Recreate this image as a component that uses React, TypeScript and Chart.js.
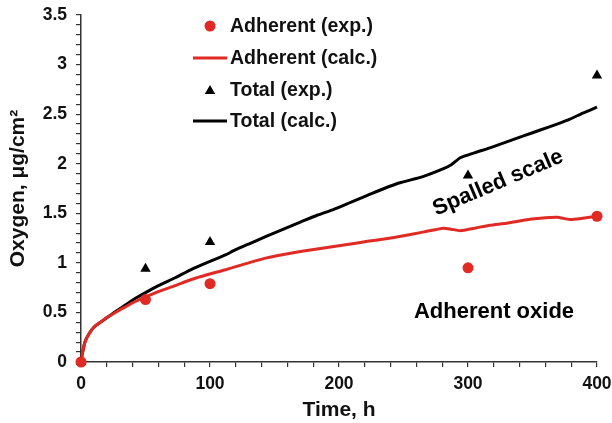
import React, { useEffect, useRef } from "react";
import { Chart, registerables } from "chart.js";

Chart.register(...registerables);

const timeExp = [0, 50, 100, 300, 400];
const adherentExp = [0, 0.63, 0.79, 0.95, 1.47];
const totalExp = [0, 0.94, 1.21, 1.88, 2.89];

const timeCalc = [0, 1, 3, 6, 10, 15, 21, 28, 35, 42, 50, 60, 73, 85, 99, 112, 118, 130, 144, 157, 170, 183, 196, 209, 222, 235, 248, 265, 281, 287, 294, 305, 317, 330, 343, 356, 369, 379, 389, 400];
const totalCalc = [0, 0.08, 0.2, 0.28, 0.35, 0.4, 0.456, 0.52, 0.58, 0.64, 0.7, 0.77, 0.85, 0.93, 1.01, 1.08, 1.12, 1.19, 1.27, 1.34, 1.41, 1.48, 1.54, 1.61, 1.68, 1.75, 1.81, 1.87, 1.95, 1.99, 2.06, 2.11, 2.16, 2.22, 2.28, 2.34, 2.4, 2.45, 2.51, 2.57];
const adherentCalc = [0, 0.08, 0.2, 0.28, 0.35, 0.4, 0.456, 0.51, 0.56, 0.61, 0.655, 0.71, 0.77, 0.83, 0.885, 0.93, 0.955, 1.0, 1.05, 1.085, 1.115, 1.14, 1.166, 1.19, 1.217, 1.24, 1.268, 1.31, 1.35, 1.34, 1.325, 1.35, 1.38, 1.4, 1.43, 1.45, 1.46, 1.437, 1.45, 1.47];

const legendLabels = ["Adherent (exp.)", "Adherent (calc.)", "Total (exp.)", "Total (calc.)"];
const annotationLabels = ["Spalled scale", "Adherent oxide"];
const xTitle = "Time, h";
const yTitle = "Oxygen, μg/cm²";

const RED = "rgb(226,42,36)";
const BLACK = "#000000";
const FONT = "'Liberation Sans', Arial, sans-serif";

const toXY = (xs: number[], ys: number[]) => xs.map((x, i) => ({ x, y: ys[i] }));

const overlayPlugin = {
  id: "overlay",
  afterDraw(chart: any) {
    const ctx = chart.ctx as CanvasRenderingContext2D;
    ctx.save();
    const rows = [26, 58, 90, 121];
    const mx = 210;
    ctx.fillStyle = RED;
    ctx.beginPath();
    ctx.arc(mx, rows[0], 5.5, 0, Math.PI * 2);
    ctx.fill();
    ctx.strokeStyle = RED;
    ctx.lineWidth = 3;
    ctx.beginPath();
    ctx.moveTo(193, rows[1]);
    ctx.lineTo(227, rows[1]);
    ctx.stroke();
    ctx.fillStyle = BLACK;
    const r = 6;
    ctx.beginPath();
    for (let k = 0; k < 3; k++) {
      const a = (k * 2 * Math.PI) / 3;
      const px = mx + Math.sin(a) * r;
      const py = rows[2] + 1 - Math.cos(a) * r;
      if (k === 0) ctx.moveTo(px, py);
      else ctx.lineTo(px, py);
    }
    ctx.closePath();
    ctx.fill();
    ctx.strokeStyle = BLACK;
    ctx.beginPath();
    ctx.moveTo(193, rows[3]);
    ctx.lineTo(227, rows[3]);
    ctx.stroke();

    ctx.fillStyle = "#111";
    ctx.font = `bold 19.5px ${FONT}`;
    ctx.textAlign = "left";
    ctx.textBaseline = "middle";
    legendLabels.forEach((t, i) => ctx.fillText(t, 230, rows[i] + 1));

    ctx.font = `bold 22px ${FONT}`;
    ctx.textAlign = "center";
    ctx.fillStyle = "#000";
    ctx.fillText(annotationLabels[1], 494, 312);
    ctx.translate(498, 183);
    ctx.rotate((-23 * Math.PI) / 180);
    ctx.fillText(annotationLabels[0], 0, 0);
    ctx.restore();
  },
};

export default function App() {
  const ref = useRef<HTMLCanvasElement | null>(null);
  useEffect(() => {
    document.body.style.margin = "0";
    if (!ref.current) return;
    Chart.defaults.font.family = FONT;
    const chart = new Chart(ref.current, {
      type: "scatter",
      data: {
        datasets: [
          {
            label: "Adherent (exp.)",
            data: toXY(timeExp, adherentExp),
            backgroundColor: RED,
            borderColor: RED,
            pointRadius: 5.5,
            pointBorderWidth: 0,
            pointStyle: "circle",
            showLine: false,
            order: 0,
            clip: false,
          },
          {
            label: "Total (exp.)",
            data: toXY(timeExp, totalExp),
            backgroundColor: BLACK,
            borderColor: BLACK,
            pointRadius: 6,
            pointBorderWidth: 0,
            pointStyle: "triangle",
            showLine: false,
            order: 0,
            clip: false,
          },
          {
            label: "Adherent (calc.)",
            data: toXY(timeCalc, adherentCalc),
            borderColor: RED,
            borderWidth: 3,
            pointRadius: 0,
            showLine: true,
            tension: 0.2,
            order: 1,
            clip: false,
          },
          {
            label: "Total (calc.)",
            data: toXY(timeCalc, totalCalc),
            borderColor: BLACK,
            borderWidth: 3,
            pointRadius: 0,
            showLine: true,
            tension: 0.2,
            order: 1,
            clip: false,
          },
        ],
      },
      options: {
        responsive: false,
        animation: false,
        layout: { padding: { left: 0, right: 15, top: 15, bottom: 0 } },
        plugins: { legend: { display: false }, tooltip: { enabled: false } },
        scales: {
          x: {
            type: "linear",
            min: 0,
            max: 400,
            afterFit: (s: any) => {
              s.height = 61;
              s.paddingLeft = 0;
              s.paddingRight = 0;
            },
            border: { display: true, color: "#333", width: 1.5 },
            grid: { display: true, drawOnChartArea: false, drawTicks: true, tickLength: 5, color: "#333", lineWidth: 1.2 },
            ticks: {
              stepSize: 20,
              autoSkip: false,
              maxRotation: 0,
              padding: 7,
              color: "#111",
              font: { size: 17.5, weight: "bold" },
              callback: (v: any) => (Math.round(v) % 100 === 0 ? String(Math.round(v)) : ""),
            },
            title: { display: true, text: xTitle, color: "#111", font: { size: 21, weight: "bold" }, padding: { top: 2, bottom: 0 } },
          },
          y: {
            type: "linear",
            min: 0,
            max: 3.5,
            afterFit: (s: any) => {
              s.width = 81;
              s.paddingTop = 0;
              s.paddingBottom = 0;
            },
            border: { display: true, color: "#333", width: 1.5 },
            grid: { display: true, drawOnChartArea: false, drawTicks: true, tickLength: 5, color: "#333", lineWidth: 1.2 },
            ticks: {
              stepSize: 0.1,
              autoSkip: false,
              padding: 9,
              color: "#111",
              font: { size: 17.5, weight: "bold" },
              callback: (v: any) => {
                const n = Number(v);
                if (Math.abs(n * 2 - Math.round(n * 2)) < 1e-6) {
                  return String(Math.round(n * 10) / 10);
                }
                return "";
              },
            },
            title: { display: true, text: yTitle, color: "#111", font: { size: 21, weight: "bold" }, padding: { top: 6, bottom: 0 } },
          },
        },
      },
      plugins: [overlayPlugin],
    });
    return () => chart.destroy();
  }, []);
  return (
    <div style={{ position: "absolute", left: 0, top: 0 }}>
      <canvas ref={ref} width={612} height={423} />
    </div>
  );
}
